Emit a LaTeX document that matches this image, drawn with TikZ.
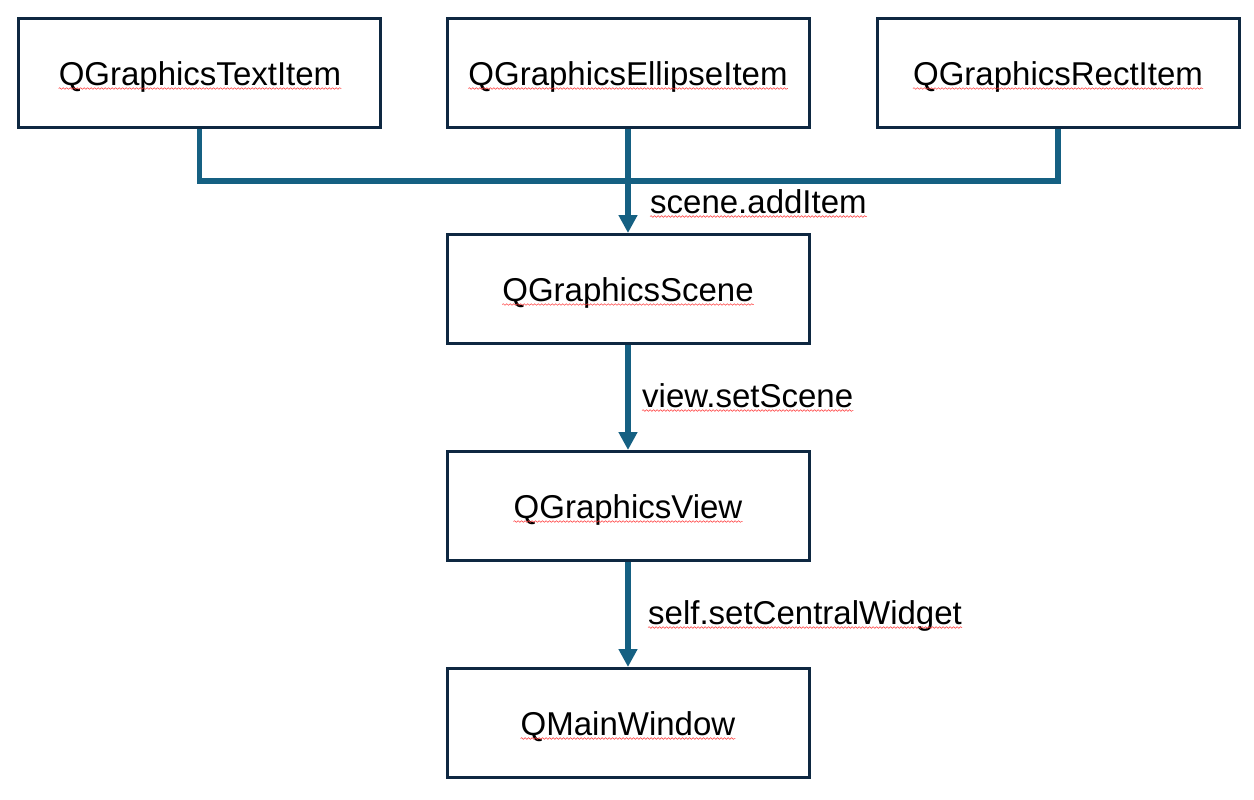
\documentclass[tikz,border=0pt]{standalone}
\usepackage{fontspec}
\setmainfont{Liberation Sans}
\usetikzlibrary{arrows.meta,decorations.pathmorphing}
\definecolor{boxline}{HTML}{0E2841}
\definecolor{connblue}{HTML}{156082}
\tikzset{
  itembox/.style={draw=boxline, line width=3pt, minimum width=362pt, minimum height=109pt, inner sep=0pt},
  boxtext/.style={anchor=base, inner sep=0pt, font=\fontsize{33}{39}\selectfont},
  lbltext/.style={anchor=base west, inner sep=0pt, font=\fontsize{33}{39}\selectfont},
  conn/.style={draw=connblue, line width=5.5pt},
  connarrow/.style={conn, -{Triangle[width=18pt,length=18pt]}},
  squiggle/.style={draw=red!80!white, line width=0.5pt, decorate, decoration={snake, segment length=3.5pt, amplitude=0.8pt}}
}
\begin{document}
\begin{tikzpicture}[x=1pt,y=-1pt]
\useasboundingbox[fill=white] (0,0) rectangle (1254,800);
% boxes
\node[itembox] (b1) at (199.5,73) {};
\node[itembox] (b2) at (628,73) {};
\node[itembox] (b3) at (1058,73) {};
\node[itembox] (b4) at (628,289) {};
\node[itembox] (b5) at (628,506) {};
\node[itembox] (b6) at (628,723) {};
% box texts
\node[boxtext] (t1) at (200,85) {QGraphicsTextItem};
\node[boxtext] (t2) at (628,85) {QGraphicsEllipseItem};
\node[boxtext] (t3) at (1058,85) {QGraphicsRectItem};
\node[boxtext] (t4) at (628,301) {QGraphicsScene};
\node[boxtext] (t5) at (628,518) {QGraphicsView};
\node[boxtext] (t6) at (628,735) {QMainWindow};
% connectors
\coordinate (j) at (628,181);
\draw[conn] (b1.south) |- (j) -| (b3.south);
\draw[connarrow] (b2.south) -- (b4.north);
\draw[connarrow] (b4.south) -- (b5.north);
\draw[connarrow] (b5.south) -- (b6.north);
% labels
\node[lbltext] (l1) at (650,213) {scene.addItem};
\node[lbltext] (l2) at (642,407) {view.setScene};
\node[lbltext] (l3) at (648,624) {self.setCentralWidget};
% spell-check squiggles
\foreach \n in {t1,t2,t3,t4,t5,t6,l1,l2,l3}{
  \draw[squiggle] ([yshift=-3.5pt]\n.base west) -- ([yshift=-3.5pt]\n.base east);
}
\end{tikzpicture}
\end{document}
